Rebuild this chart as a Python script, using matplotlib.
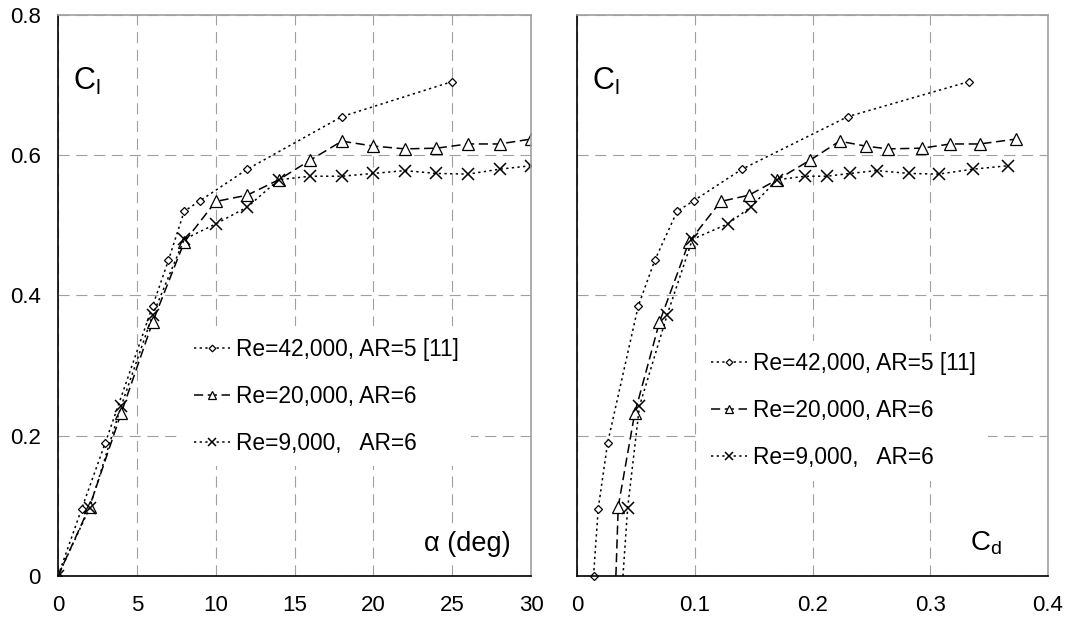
import matplotlib
matplotlib.use("Agg")
import matplotlib.pyplot as plt

plt.rcParams['font.family'] = ['Liberation Sans', 'DejaVu Sans']
plt.rcParams['mathtext.default'] = 'regular'

# Re=42,000, AR=5 [11]
alpha_42k = [0, 1.5, 3, 6, 7, 8, 9, 12, 18, 25]
cl_42k = [0, 0.096, 0.19, 0.385, 0.45, 0.52, 0.535, 0.58, 0.655, 0.705]
cd_42k = [0.014, 0.018, 0.026, 0.052, 0.066, 0.085, 0.099, 0.140, 0.230, 0.333]

# Re=20,000, AR=6
alpha_20k = [0, 2, 4, 6, 8, 10, 12, 14, 16, 18, 20, 22, 24, 26, 28, 30]
cl_20k = [0, 0.099, 0.232, 0.362, 0.476, 0.534, 0.543, 0.565, 0.593, 0.62,
          0.613, 0.609, 0.61, 0.616, 0.616, 0.623]
cd_20k = [0.033, 0.035, 0.049, 0.070, 0.095, 0.122, 0.146, 0.170, 0.198, 0.223,
          0.245, 0.264, 0.293, 0.317, 0.342, 0.373]

# Re=9,000, AR=6
alpha_9k = [0, 2, 4, 6, 8, 10, 12, 14, 16, 18, 20, 22, 24, 26, 28, 30]
cl_9k = [0, 0.097, 0.242, 0.372, 0.48, 0.502, 0.526, 0.565, 0.57, 0.57,
         0.574, 0.578, 0.574, 0.573, 0.58, 0.585]
cd_9k = [0.039, 0.043, 0.053, 0.0765, 0.098, 0.128, 0.1475, 0.170, 0.194, 0.212,
         0.232, 0.2545, 0.282, 0.307, 0.336, 0.366]

labels = ['Re=42,000, AR=5 [11]', 'Re=20,000, AR=6', 'Re=9,000,   AR=6']
alpha_ticks = [0, 5, 10, 15, 20, 25, 30]
cd_ticks = [0, 0.1, 0.2, 0.3, 0.4]
cd_ticklabels = ['0', '0.1', '0.2', '0.3', '0.4']
cl_ticks = [0, 0.2, 0.4, 0.6, 0.8]
cl_ticklabels = ['0', '0.2', '0.4', '0.6', '0.8']

styles = [
    dict(ls=(0, (1.5, 2.2)), lw=1.1, marker='D', ms=4.5, mew=0.9),
    dict(ls=(0, (6, 3)), lw=1.1, marker='^', ms=8, mew=0.9),
    dict(ls=(0, (1.5, 2.2)), lw=1.1, marker='x', ms=8, mew=1.1),
]

fig = plt.figure(figsize=(10.67, 6.22), dpi=100)
ax1 = fig.add_axes([0.0544, 0.074, 0.4433, 0.902])
ax2 = fig.add_axes([0.5408, 0.074, 0.4414, 0.902])


def style_axes(ax):
    ax.set_ylim(0, 0.8)
    ax.set_yticks(cl_ticks)
    ax.grid(True, color='#a0a0a0', ls=(0, (10, 6)), lw=0.8)
    ax.set_axisbelow(True)
    for s in ['top', 'right']:
        ax.spines[s].set_color('#a0a0a0')
        ax.spines[s].set_linewidth(1.2)
    for s in ['left', 'bottom']:
        ax.spines[s].set_color('black')
        ax.spines[s].set_linewidth(1.2)
    ax.tick_params(length=0, labelsize=16)
    ax.tick_params(axis='x', pad=14)
    ax.tick_params(axis='y', pad=12.5)
    ax.text(0.032, 0.866, '$C_l$', transform=ax.transAxes, fontsize=22)


# left: Cl vs alpha
xs = [alpha_42k, alpha_20k, alpha_9k]
ys = [cl_42k, cl_20k, cl_9k]
for x, y, lab, st in zip(xs, ys, labels, styles):
    ax1.plot(x, y, color='black', mfc='white', mec='black', label=lab, **st)
style_axes(ax1)
ax1.set_xlim(0, 30)
ax1.set_xticks(alpha_ticks)
ax1.set_yticklabels(cl_ticklabels)
ax1.text(0.956, 0.045, 'α (deg)', transform=ax1.transAxes, fontsize=19.5,
         ha='right', va='baseline',
         bbox=dict(facecolor='white', edgecolor='none', pad=3))
leg1 = ax1.legend(loc='upper left', bbox_to_anchor=(0.264, 0.445), fontsize=16.4,
                  frameon=True, facecolor='white', edgecolor='none', framealpha=1,
                  fancybox=False, borderpad=0.5, handlelength=1.55,
                  handletextpad=0.3, labelspacing=1.05, borderaxespad=0)

# right: Cl vs Cd
xs = [cd_42k, cd_20k, cd_9k]
marks = [None, range(1, len(cd_20k)), range(1, len(cd_9k))]
for x, y, lab, st, me in zip(xs, ys, labels, styles, marks):
    ax2.plot(x, y, color='black', mfc='white', mec='black', label=lab,
             markevery=me, clip_on=False, **st)
style_axes(ax2)
ax2.set_xlim(0, 0.4)
ax2.set_xticks(cd_ticks)
ax2.set_xticklabels(cd_ticklabels)
ax2.tick_params(axis='y', labelleft=False)
ax2.text(0.834, 0.045, '$C_d$', transform=ax2.transAxes, fontsize=20,
         ha='left', va='baseline')
leg2 = ax2.legend(loc='upper left', bbox_to_anchor=(0.261, 0.419), fontsize=16.4,
                  frameon=True, facecolor='white', edgecolor='none', framealpha=1,
                  fancybox=False, borderpad=0.5, handlelength=1.55,
                  handletextpad=0.3, labelspacing=1.05, borderaxespad=0)

for leg in (leg1, leg2):
    for h in leg.legend_handles:
        h.set_markersize(h.get_markersize() * 0.75)

fig.savefig('out.png', dpi=100)
